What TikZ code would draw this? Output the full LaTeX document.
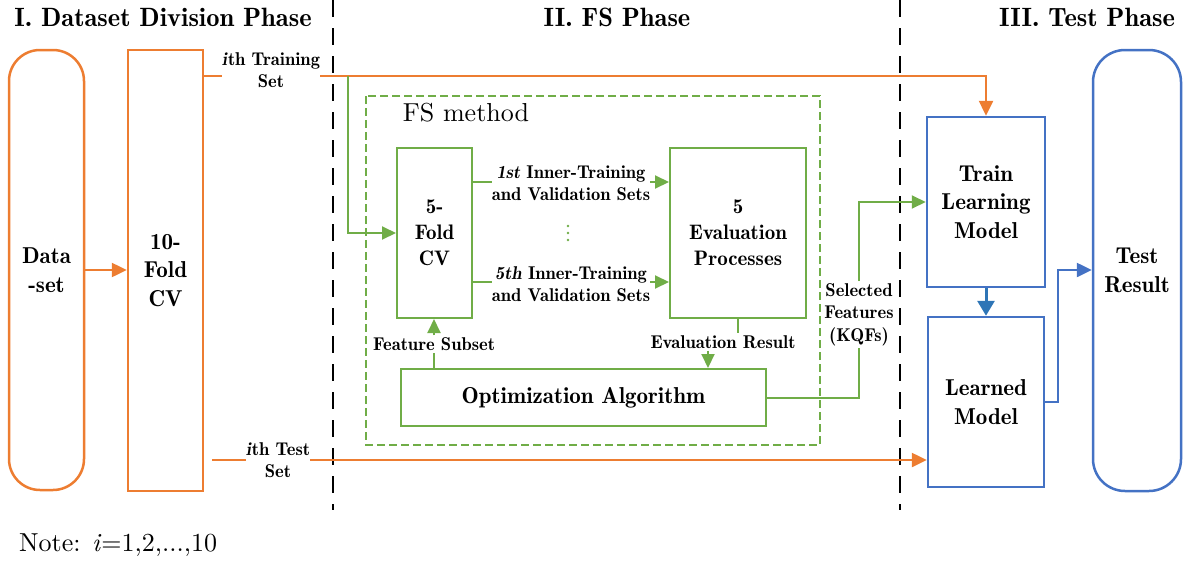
\documentclass[tikz,border=0pt]{standalone}
\usepackage{fontspec}
\setmainfont{lmroman10-regular.otf}[BoldFont=lmromandemi10-regular.otf, ItalicFont=lmroman10-italic.otf, BoldItalicFont=lmromandemi10-oblique.otf]
\usetikzlibrary{arrows.meta}
\definecolor{cor}{HTML}{ED7D31}
\definecolor{cgr}{HTML}{70AD47}
\definecolor{cbl}{HTML}{4472C4}
\definecolor{cdb}{HTML}{2E75B6}
\tikzset{
  obox/.style={draw=cor, line width=2.5pt, minimum width=#1, inner sep=0pt},
  gbox/.style={draw=cgr, line width=2pt, inner sep=0pt},
  bbox/.style={draw=cbl, line width=2.5pt, inner sep=0pt},
  lbl/.style={align=center, inner sep=1pt, font=\fontsize{23}{28.5}\selectfont\bfseries},
  mid/.style={align=center, inner sep=1pt, font=\fontsize{21}{26}\selectfont\bfseries},
  small/.style={align=center, inner sep=0pt, font=\fontsize{18.5}{22.5}\selectfont\bfseries},
  head/.style={inner sep=0pt, font=\fontsize{26.5}{32}\selectfont\bfseries},
  oline/.style={draw=cor, line width=2.5pt},
  oarrow/.style={oline, -{Triangle[length=15pt,width=14pt]}},
  gline/.style={draw=cgr, line width=2pt},
  garrow/.style={gline, -{Triangle[length=14pt,width=13pt]}},
  bline/.style={draw=cbl, line width=2.5pt},
  barrow/.style={bline, -{Triangle[length=15pt,width=14pt]}},
  phase/.style={draw=black, line width=2pt, dash pattern=on 17pt off 11pt},
  dotmark/.style={fill=cgr, draw=none},
}
\begin{document}
\begin{tikzpicture}[x=1pt,y=-1pt]
\useasboundingbox (0,0) rectangle (1188,565);

% phase separators
\draw[phase] (333,0) -- (333,510);
\draw[phase] (900,0) -- (900,510);

% headings
\node[head] (h1) at (163,17) {I. Dataset Division Phase};
\node[head] (h2) at (617,17) {II. FS Phase};
\node[head] (h3) at (1087,17) {III. Test Phase};

% FS method frame
\draw[draw=cgr, line width=2pt, dash pattern=on 8pt off 4pt] (366,96) rectangle (820,445);
\node[inner sep=0pt, font=\fontsize{26}{30}\selectfont] (fsm) at (466,113) {FS method};

% phase I boxes
\node[obox=75pt, minimum height=440pt, rounded corners=31pt, lbl] (data) at (46.5,270) {Data\\-set};
\node[obox=75pt, minimum height=441pt, lbl] (tenfold) at (165.5,270.5) {10-\\Fold\\CV};

% FS boxes
\node[gbox, minimum width=75pt, minimum height=170pt, mid] (fivefold) at (434.5,233) {5-\\Fold\\CV};
\node[gbox, minimum width=136pt, minimum height=170pt, mid] (eval) at (738,233) {5\\Evaluation\\Processes};
\node[gbox, minimum width=365pt, minimum height=57pt, lbl] (opt) at (583.5,397.5) {Optimization Algorithm};

% Test phase boxes
\node[bbox, minimum width=118pt, minimum height=170pt, lbl] (train) at (986,202) {Train\\Learning\\Model};
\node[bbox, minimum width=116pt, minimum height=170pt, lbl] (learned) at (986,402) {Learned\\Model};
\node[bbox, minimum width=88pt, minimum height=441pt, rounded corners=32pt, lbl] (testres) at (1137,270.5) {Test\\Result};

% labels
\node[small] (trainlbl) at (271,70) {\textit{i}th Training\\Set};
\node[small] (testlbl) at (278,460) {\textit{i}th Test\\Set};
\node[small] (l1) at (571,183) {\textit{1st} Inner-Training\\and Validation Sets};
\node[small] (l5) at (571,284) {\textit{5th} Inner-Training\\and Validation Sets};
\node[small, inner sep=2pt] (fslbl) at (434,344) {Feature Subset};
\node[small, inner sep=2pt] (evlbl) at (723,342) {Evaluation Result};
\node[small, inner sep=2pt] (kqf) at (859,314.5) {Selected\\Features\\(KQFs)};

% vertical dots
\fill[dotmark] (568,226) circle (1.4pt);
\fill[dotmark] (568,233) circle (1.4pt);
\fill[dotmark] (568,240) circle (1.4pt);

% note
\node[anchor=west, inner sep=0pt, font=\fontsize{26}{30}\selectfont] (note) at (19,545) {Note: \textit{i}=1,2,...,10};

% coordinates
\coordinate (gsplit) at (348,76);
\coordinate (tstart) at (212,460);
\coordinate (bend) at (1058,402);

% connectors phase I
\draw[oarrow] (data.east |- 0,270) -- (tenfold.west |- 0,270);
\draw[oline] (tenfold.east |- 0,76) -- (trainlbl.west |- 0,76);
\draw[oarrow] (trainlbl.east |- 0,76) -- (train.north |- 0,76) -- (train.north);
\draw[oline] (tstart) -- (testlbl.west |- 0,460);
\draw[oarrow] (testlbl.east |- 0,460) -- (learned.west |- 0,460);

% FS connectors
\draw[garrow] (gsplit) |- (fivefold.west);
\draw[gline] (fivefold.east |- 0,182) -- (l1.west |- 0,182);
\draw[garrow] (l1.east |- 0,182) -- (eval.west |- 0,182);
\draw[gline] (fivefold.east |- 0,282) -- (l5.west |- 0,282);
\draw[garrow] (l5.east |- 0,282) -- (eval.west |- 0,282);
\draw[gline] (opt.north -| fslbl) -- (fslbl.south);
\draw[garrow] (fslbl.north) -- (fivefold.south -| fslbl);
\draw[gline] (eval.south -| 738,0) -- (evlbl.north -| 738,0);
\draw[garrow] (evlbl.south -| 708,0) -- (opt.north -| 708,0);
\draw[gline] (opt.east) -- (opt.east -| kqf) -- (kqf.south);
\draw[garrow] (kqf.north) |- (train.west);

% test connectors
\draw[draw=cdb, line width=3pt, -{Triangle[length=15pt,width=17pt]}] (train.south) -- (learned.north);
\draw[barrow] (learned.east) -- (bend) |- (testres.west |- 0,270);
\end{tikzpicture}
\end{document}
